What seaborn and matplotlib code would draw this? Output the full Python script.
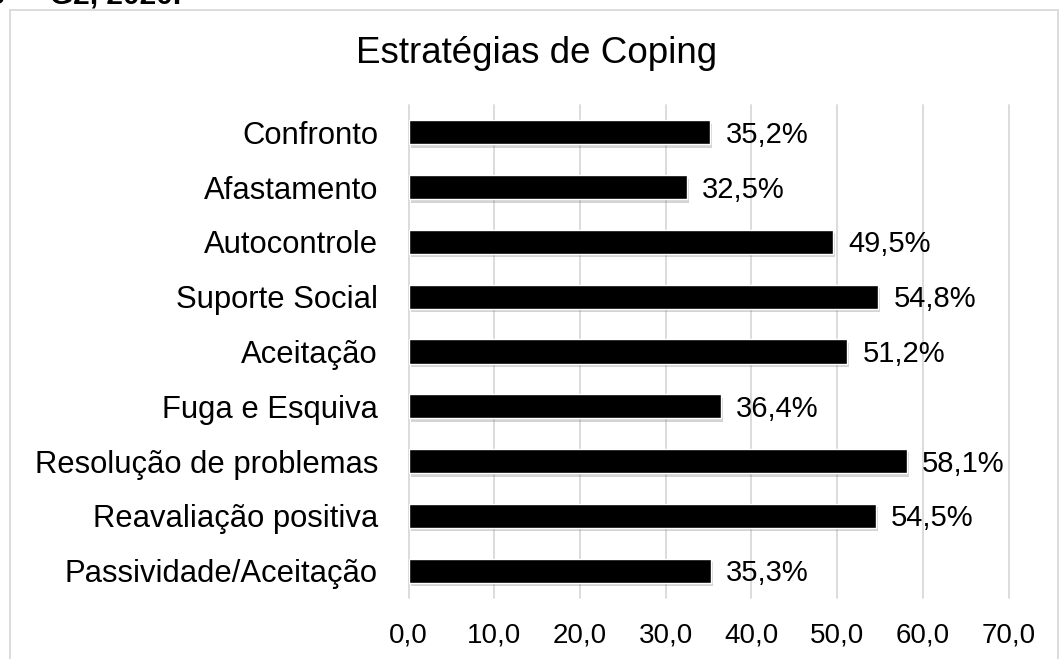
import matplotlib
matplotlib.use("Agg")
import matplotlib.pyplot as plt
import matplotlib.patheffects as pe
from matplotlib.patches import Rectangle
import seaborn as sns
import pandas as pd

# Chart data
estrategias = [
    "Confronto",
    "Afastamento",
    "Autocontrole",
    "Suporte Social",
    "Aceitação",
    "Fuga e Esquiva",
    "Resolução de problemas",
    "Reavaliação positiva",
    "Passividade/Aceitação",
]
percentuais = [35.2, 32.5, 49.5, 54.8, 51.2, 36.4, 58.1, 54.5, 35.3]
x_ticks = [0, 10, 20, 30, 40, 50, 60, 70]

df = pd.DataFrame({"estrategia": estrategias, "valor": percentuais})

sns.set_theme(style="white")
plt.rcParams["font.family"] = ["Liberation Sans", "DejaVu Sans"]

W, H = 1059, 659
fig = plt.figure(figsize=(W / 100, H / 100), dpi=100)
ax = fig.add_axes([408.5 / W, 1 - 598 / H, 600 / W, 493 / H])

sns.barplot(data=df, x="valor", y="estrategia", color="black",
            saturation=1, width=0.44, ax=ax)

# soft shadow like the spreadsheet bars
for p in ax.patches:
    p.set_path_effects([
        pe.SimplePatchShadow(offset=(1.5, -2.5), shadow_rgbFace="0.45", alpha=0.3),
        pe.Normal(),
    ])

ax.set_xlim(0, 70)
ax.set_xticks(x_ticks)
ax.set_xticklabels([f"{t:.1f}".replace(".", ",") for t in x_ticks])
ax.grid(axis="x", color="#d9d9d9", linewidth=1.3)
ax.set_axisbelow(True)
for gl in ax.xaxis.get_gridlines():
    gl.set_clip_on(False)
for s in ax.spines.values():
    s.set_visible(False)
ax.set_xlabel("")
ax.set_ylabel("")
ax.tick_params(axis="x", length=0, labelsize=20, pad=18, colors="black")
ax.tick_params(axis="y", length=0, labelsize=22.3, pad=22, colors="black")

labels = ax.bar_label(ax.containers[0],
                      labels=[f"{v:.1f}%".replace(".", ",") for v in percentuais],
                      padding=11, fontsize=21, color="black")
# value labels sit a touch below the bar centre in the original
for t in labels:
    t.xyann = (11, -1.8)

# title
fig.text(537 / W, 1 - 63 / H, "Estratégias de Coping", ha="center",
         va="baseline", fontsize=26.5, color="black")

# caption cut off at the top of the crop
fig.text(4.5 / W, 1 - 3.5 / H, "3", ha="right", va="baseline",
         fontsize=21.5, fontweight="bold", color="black")
fig.text(25 / W, 1 - 3.5 / H, "– G2, 2020.", ha="left", va="baseline",
         fontsize=21.5, fontweight="bold", color="black")

# chart area border
fig.add_artist(Rectangle((9.5 / W, -0.05), (1058 - 9.5) / W, (H - 9.5) / H + 0.05,
                         transform=fig.transFigure, fill=False,
                         edgecolor="#d9d9d9", linewidth=1.3))

fig.savefig("out.png", dpi=100)
